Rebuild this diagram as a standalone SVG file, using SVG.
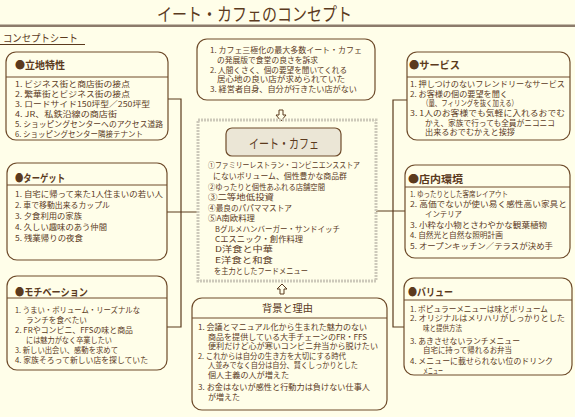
<svg xmlns="http://www.w3.org/2000/svg" width="575" height="417" viewBox="0 0 575 417">
<style>
text{font-family:"Noto Sans CJK JP","Noto Sans",sans-serif;fill:#5b3a1d}
.t{font-size:8px}
.s{font-size:8px}
.h{font-size:10.5px;font-weight:bold}
.box{fill:none;stroke:#6e4b2a;stroke-width:1.2}
.div{stroke:#6e4b2a;stroke-width:1}
.con{stroke:#5b3a1d;stroke-width:1.2;fill:none}
.arr{fill:#fffee9;stroke:#5b3a1d;stroke-width:1}
</style>
<rect x="0" y="0" width="575" height="417" fill="#fffee9"/>
<g id="header">
<text x="157" y="21" font-size="18" textLength="195" lengthAdjust="spacingAndGlyphs">イート・カフェのコンセプト</text>
<rect x="0" y="24.5" width="575" height="2.5" fill="#8c7b6b"/>
<text x="3" y="42" font-size="10.5" textLength="75" lengthAdjust="spacingAndGlyphs">コンセプトシート</text>
<line x1="0" y1="44.5" x2="85" y2="44.5" stroke="#5b3a1d" stroke-width="1"/>
</g>
<g id="connectors">
<path class="con" d="M168 99 H181 V327 H167 M167 212 H198"/>
<path class="con" d="M407 100 H393 V327 H404 M376 211 H405"/>
<path class="arr" d="M279 110 H283 V115 H286 L281 121 L276 115 H279 Z"/>
<path class="arr" d="M282 284 L287 289 H284 V294 H280 V289 H277 Z"/>
</g>
<g id="ricchi">
<rect class="box" x="6" y="52" width="162" height="88" rx="10"/>
<line class="div" x1="6" y1="77" x2="168" y2="77"/>
<text class="h" x="15" y="69" textLength="50" lengthAdjust="spacingAndGlyphs">●立地特性</text>
<text class="t" x="15" y="87" textLength="115" lengthAdjust="spacingAndGlyphs">1. ビジネス街と商店街の接点</text>
<text class="t" x="15" y="97" textLength="115" lengthAdjust="spacingAndGlyphs">2. 繁華街とビジネス街の接点</text>
<text class="t" x="15" y="107" textLength="135" lengthAdjust="spacingAndGlyphs">3. ロードサイド150坪型／250坪型</text>
<text class="t" x="15" y="117" textLength="102" lengthAdjust="spacingAndGlyphs">4. JR、私鉄沿線の商店街</text>
<text class="t" x="15" y="127" textLength="148" lengthAdjust="spacingAndGlyphs">5. ショッピングセンターへのアクセス道路</text>
<text class="t" x="15" y="137" textLength="128" lengthAdjust="spacingAndGlyphs">6. ショッピングセンター隣接テナント</text>
</g>
<g id="target">
<rect class="box" x="7" y="163" width="160" height="97" rx="10"/>
<line class="div" x1="7" y1="185" x2="167" y2="185"/>
<text class="h" x="15" y="182" textLength="50" lengthAdjust="spacingAndGlyphs">●ターゲット</text>
<text class="t" x="15" y="196.6" textLength="148" lengthAdjust="spacingAndGlyphs">1. 自宅に帰って来た1人住まいの若い人</text>
<text class="t" x="15" y="207.6" textLength="95" lengthAdjust="spacingAndGlyphs">2. 車で移動出来るカップル</text>
<text class="t" x="15" y="218.6" textLength="67" lengthAdjust="spacingAndGlyphs">3. 夕食利用の家族</text>
<text class="t" x="15" y="229.6" textLength="92" lengthAdjust="spacingAndGlyphs">4. 久しい趣味のあう仲間</text>
<text class="t" x="15" y="240.6" textLength="68" lengthAdjust="spacingAndGlyphs">5. 残業帰りの夜食</text>
</g>
<g id="motivation">
<rect class="box" x="7" y="276" width="160" height="94" rx="10"/>
<line class="div" x1="7" y1="298" x2="167" y2="298"/>
<text class="h" x="15" y="295.6" textLength="73" lengthAdjust="spacingAndGlyphs">●モチベーション</text>
<text class="s" x="15" y="312.8" textLength="125" lengthAdjust="spacingAndGlyphs">1. うまい・ボリューム・リーズナルな</text>
<text class="s" x="26" y="322.6" textLength="61" lengthAdjust="spacingAndGlyphs">ランチを食べたい</text>
<text class="s" x="15" y="333" textLength="118" lengthAdjust="spacingAndGlyphs">2. FRやコンビニ、FFSの味と商品</text>
<text class="s" x="26" y="342.8" textLength="86" lengthAdjust="spacingAndGlyphs">には魅力がなく卒業したい</text>
<text class="s" x="15" y="353" textLength="103" lengthAdjust="spacingAndGlyphs">3. 新しい出会い、感動を求めて</text>
<text class="s" x="15" y="363.3" textLength="133" lengthAdjust="spacingAndGlyphs">4. 家族そろって新しい店を探していた</text>
</g>
<g id="origin">
<rect class="box" x="197" y="39" width="178" height="61" rx="10"/>
<text class="s" x="210" y="53.3" textLength="152" lengthAdjust="spacingAndGlyphs">1. カフェ三極化の最大多数イート・カフェ</text>
<text class="s" x="217" y="63" textLength="101" lengthAdjust="spacingAndGlyphs">の発展版で食堂の良さを訴求</text>
<text class="s" x="210" y="72.6" textLength="137" lengthAdjust="spacingAndGlyphs">2. 人間くさく、個の要望を聞いてくれる</text>
<text class="s" x="217" y="82.2" textLength="128" lengthAdjust="spacingAndGlyphs">居心地の良い店が求められていた</text>
<text class="s" x="210" y="91.9" textLength="147" lengthAdjust="spacingAndGlyphs">3. 経営者自身、自分が行きたい店がない</text>
</g>
<g id="center">
<rect x="198" y="120" width="178" height="161" fill="none" stroke="#cdc9ba" stroke-width="3" stroke-dasharray="2 1"/>
<rect x="226" y="128" width="115" height="28" rx="6" fill="#ebe6d6" stroke="#6e4b2a" stroke-width="1.2"/>
<text x="249" y="148" font-size="13" textLength="70" lengthAdjust="spacingAndGlyphs">イート・カフェ</text>
<text class="t" x="208" y="167.6" textLength="152" lengthAdjust="spacingAndGlyphs">①ファミリーレストラン・コンビニエンスストア</text>
<text class="t" x="213" y="178.6" textLength="134" lengthAdjust="spacingAndGlyphs">にないボリューム、個性豊かな商品群</text>
<text class="t" x="208" y="189.6" textLength="117" lengthAdjust="spacingAndGlyphs">②ゆったりと個性あふれる店舗空間</text>
<text class="t" x="208" y="200.3" textLength="66" lengthAdjust="spacingAndGlyphs">③二等地低投資</text>
<text class="t" x="208" y="210.6" textLength="84" lengthAdjust="spacingAndGlyphs">④最良のパパママストア</text>
<text class="t" x="208" y="220.9" textLength="47" lengthAdjust="spacingAndGlyphs">⑤A南欧料理</text>
<text class="t" x="215" y="231.6" textLength="125" lengthAdjust="spacingAndGlyphs">Bグルメハンバーガー・サンドイッチ</text>
<text class="t" x="215" y="241.9" textLength="88" lengthAdjust="spacingAndGlyphs">Cエスニック・創作料理</text>
<text class="t" x="215" y="252.3" textLength="58" lengthAdjust="spacingAndGlyphs">D洋食と中華</text>
<text class="t" x="215" y="262.8" textLength="58" lengthAdjust="spacingAndGlyphs">E洋食と和食</text>
<text class="t" x="214" y="273.6" textLength="94" lengthAdjust="spacingAndGlyphs">を主力としたフードメニュー</text>
</g>
<g id="background">
<rect class="box" x="192" y="298" width="195" height="112" rx="10"/>
<line class="div" x1="192" y1="318" x2="387" y2="318"/>
<text x="262" y="312" font-size="10.5" textLength="51" lengthAdjust="spacingAndGlyphs">背景と理由</text>
<text class="s" x="198" y="330" textLength="169" lengthAdjust="spacingAndGlyphs">1. 会議とマニュアル化から生まれた魅力のない</text>
<text class="s" x="208" y="339.5" textLength="159" lengthAdjust="spacingAndGlyphs">商品を提供している大手チェーンのFR・FFS</text>
<text class="s" x="208" y="349" textLength="170" lengthAdjust="spacingAndGlyphs">便利だけど心が寒いコンビニ弁当から脱けたい</text>
<text class="s" x="198" y="358.5" textLength="148" lengthAdjust="spacingAndGlyphs">2. これからは自分の生き方を大切にする時代</text>
<text class="s" x="208" y="368" textLength="150" lengthAdjust="spacingAndGlyphs">人並みでなく自分は自分、賢くしっかりとした</text>
<text class="s" x="208" y="377.5" textLength="81" lengthAdjust="spacingAndGlyphs">個人主義の人が増えた</text>
<text class="s" x="198" y="389.5" textLength="172" lengthAdjust="spacingAndGlyphs">3. お金はないが感性と行動力は負けない仕事人</text>
<text class="s" x="208" y="399.5" textLength="32" lengthAdjust="spacingAndGlyphs">が増えた</text>
</g>
<g id="service">
<rect class="box" x="407" y="52" width="163" height="88" rx="10"/>
<line class="div" x1="407" y1="77" x2="570" y2="77"/>
<text class="h" x="409" y="69" textLength="51" lengthAdjust="spacingAndGlyphs">●サービス</text>
<text class="s" x="410" y="87" textLength="155" lengthAdjust="spacingAndGlyphs">1. 押しつけのないフレンドリーなサービス</text>
<text class="s" x="410" y="96.8" textLength="98" lengthAdjust="spacingAndGlyphs">2. お客様の個の要望を聞く</text>
<text class="s" x="422" y="106.3" textLength="96" lengthAdjust="spacingAndGlyphs">（量、フィリングを抜く加える）</text>
<text class="s" x="410" y="115.8" textLength="155" lengthAdjust="spacingAndGlyphs">3. 1人のお客様でも気軽に入れるおでむ</text>
<text class="s" x="425" y="125.5" textLength="130" lengthAdjust="spacingAndGlyphs">かえ、家族で行っても全員がニコニコ</text>
<text class="s" x="425" y="135.3" textLength="90" lengthAdjust="spacingAndGlyphs">出来るおでむかえと挨拶</text>
</g>
<g id="interior">
<rect class="box" x="405" y="165" width="165" height="93" rx="10"/>
<line class="div" x1="405" y1="187" x2="570" y2="187"/>
<text class="h" x="408" y="183" textLength="55" lengthAdjust="spacingAndGlyphs">●店内環境</text>
<text class="s" x="410" y="196.6" textLength="98" lengthAdjust="spacingAndGlyphs">1. ゆったりとした客席レイアウト</text>
<text class="s" x="410" y="206.6" textLength="157" lengthAdjust="spacingAndGlyphs">2. 高価でないが使い易く感性高い家具と</text>
<text class="s" x="425" y="216.6" textLength="37" lengthAdjust="spacingAndGlyphs">インテリア</text>
<text class="s" x="410" y="227.6" textLength="137" lengthAdjust="spacingAndGlyphs">3. 小粋な小物とさわやかな観葉植物</text>
<text class="s" x="410" y="238.3" textLength="93" lengthAdjust="spacingAndGlyphs">4. 自然光と自然な照明計画</text>
<text class="s" x="410" y="248.6" textLength="143" lengthAdjust="spacingAndGlyphs">5. オープンキッチン／テラスが決め手</text>
</g>
<g id="value">
<rect class="box" x="404" y="278" width="168" height="97" rx="10"/>
<line class="div" x1="404" y1="300" x2="572" y2="300"/>
<text class="h" x="408" y="296" textLength="45" lengthAdjust="spacingAndGlyphs">●バリュー</text>
<text class="s" x="410" y="311.6" textLength="138" lengthAdjust="spacingAndGlyphs">1. ポピュラーメニューは味とボリューム</text>
<text class="s" x="410" y="321.3" textLength="155" lengthAdjust="spacingAndGlyphs">2. オリジナルはメリハリがしっかりとした</text>
<text class="s" x="423" y="331" textLength="39" lengthAdjust="spacingAndGlyphs">味と提供方法</text>
<text class="s" x="410" y="343.6" textLength="110" lengthAdjust="spacingAndGlyphs">3. あきさせないランチメニュー</text>
<text class="s" x="423" y="353.3" textLength="89" lengthAdjust="spacingAndGlyphs">自宅に持って帰れるお弁当</text>
<text class="s" x="410" y="363.6" textLength="143" lengthAdjust="spacingAndGlyphs">4. メニューに載せられない位のドリンク</text>
<text class="s" x="423" y="373.6" textLength="20" lengthAdjust="spacingAndGlyphs">メニュー</text>
</g>
</svg>
